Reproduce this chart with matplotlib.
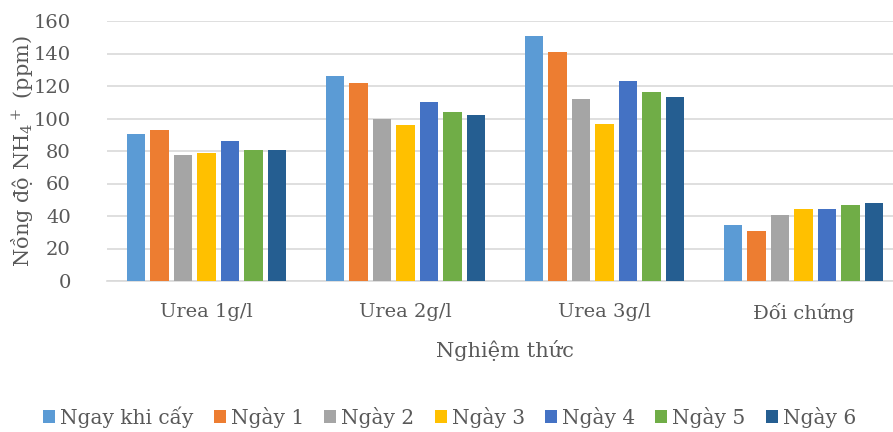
import numpy as np
import matplotlib
matplotlib.use('Agg')
import matplotlib.pyplot as plt

plt.rcParams['font.family'] = ['DejaVu Serif']
plt.rcParams['mathtext.fontset'] = 'dejavuserif'

groups = ['Urea 1g/l', 'Urea 2g/l', 'Urea 3g/l', 'Đối chứng']
series = ['Ngay khi cấy', 'Ngày 1', 'Ngày 2', 'Ngày 3', 'Ngày 4', 'Ngày 5', 'Ngày 6']
ngay0 = [90.4, 125.9, 150.5, 34.7]
ngay1 = [93.2, 122.0, 140.9, 30.8]
ngay2 = [77.4, 99.4, 112.1, 40.7]
ngay3 = [78.6, 96.1, 96.5, 44.1]
ngay4 = [86.0, 110.3, 122.8, 44.1]
ngay5 = [80.7, 104.1, 116.2, 46.6]
ngay6 = [80.7, 102.1, 113.3, 48.0]
values = [ngay0, ngay1, ngay2, ngay3, ngay4, ngay5, ngay6]
colors = ['#5B9BD5', '#ED7D31', '#A5A5A5', '#FFC000', '#4472C4', '#70AD47', '#255E91']

txt = '#595959'
fig = plt.figure(figsize=(8.93, 4.32), dpi=100)
# plot area runs a little past the right edge of the picture
ax = fig.add_axes([107/893, 1-281/432, 796/893, 260/432])

x = np.arange(len(groups))
step = 0.1177
width = 0.093
for i, (name, vals) in enumerate(zip(series, values)):
    ax.bar(x + (i - 3) * step, vals, width, color=colors[i], label=name, zorder=3)

ax.set_xlim(-0.5, 3.5)
ax.set_ylim(0, 160)
ax.set_yticks(range(0, 161, 20))
ax.set_xticks(x)
ax.set_xticklabels(groups)
ax.grid(axis='y', color='#d9d9d9', lw=1.2, zorder=0)
for s in ['top', 'right', 'left']:
    ax.spines[s].set_visible(False)
ax.spines['bottom'].set_color('#d9d9d9')
ax.spines['bottom'].set_linewidth(1.2)
ax.tick_params(length=0, labelsize=14, colors=txt)
ax.tick_params(axis='y', pad=26)
ax.tick_params(axis='x', pad=16)
ax.set_xlabel('Nghiệm thức', fontsize=15, color=txt, labelpad=12)
ax.set_ylabel(r'Nồng độ NH$_4$$^+$ (ppm)', fontsize=15, color=txt)
ax.yaxis.set_label_coords(-0.09, 0.5)

fig.legend(loc='center', bbox_to_anchor=(0.5035, 1-417/432), ncol=7, frameon=False,
           fontsize=14.5, labelcolor=txt, handlelength=0.6, handleheight=0.6,
           handletextpad=0.25, columnspacing=1.0)

fig.savefig('out.png', dpi=100)
